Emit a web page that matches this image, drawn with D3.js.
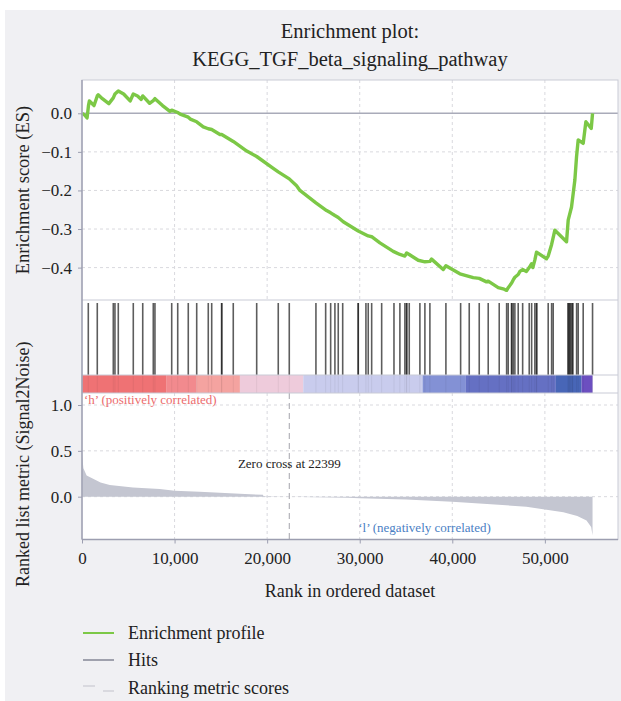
<!DOCTYPE html>
<html><head><meta charset="utf-8">
<script src="https://cdn.jsdelivr.net/npm/d3@7"></script>
<style>
body{margin:0;background:#fff}
svg{display:block}
text{font-family:"Liberation Serif","Times New Roman",serif;fill:#222}
</style>
</head><body>
<svg id="chart" width="621" height="701"></svg>
<script>
// ---------------- data ----------------
const titleLines = ["Enrichment plot:", "KEGG_TGF_beta_signaling_pathway"];
const esRank = [0,300,550,700,800,1300,1650,1750,2200,2900,3380,3560,3920,4500,5200,5540,6000,6400,6560,7300,7700,7880,8700,9500,9690,10340,10600,11480,11700,12390,13100,13640,14010,14900,15090,16340,17800,18870,20660,21200,22390,23180,23540,25270,26420,26860,27320,27680,28220,29840,30920,31290,32180,33620,34340,34880,35070,35350,36320,37040,37580,37760,39020,39310,40820,42260,42910,43700,43880,44960,45600,45870,46040,46410,46580,46760,47120,47300,47600,48000,48310,48570,48700,48920,49100,50180,50360,50730,51080,52340,52520,52880,53240,53420,53600,54140,54430,55010,55150];
const esValue = [0,-0.005,-0.012,0.02,0.032,0.02,0.045,0.048,0.038,0.025,0.04,0.05,0.058,0.05,0.032,0.05,0.045,0.036,0.045,0.026,0.033,0.038,0.02,0.005,0.008,0.002,-0.002,-0.01,-0.015,-0.022,-0.035,-0.04,-0.042,-0.055,-0.055,-0.073,-0.098,-0.112,-0.143,-0.152,-0.17,-0.188,-0.2,-0.232,-0.252,-0.258,-0.265,-0.27,-0.281,-0.305,-0.318,-0.32,-0.336,-0.358,-0.366,-0.37,-0.362,-0.366,-0.381,-0.385,-0.384,-0.378,-0.405,-0.395,-0.416,-0.426,-0.428,-0.437,-0.435,-0.452,-0.456,-0.459,-0.452,-0.44,-0.432,-0.425,-0.418,-0.41,-0.405,-0.41,-0.4,-0.39,-0.4,-0.38,-0.36,-0.377,-0.37,-0.34,-0.303,-0.333,-0.277,-0.243,-0.173,-0.113,-0.069,-0.078,-0.022,-0.039,0];
const hitRanks = [680,1650,3380,3560,3920,5540,6560,7700,7880,9690,10340,11480,12390,13640,14010,15090,15090,16340,18870,21200,22390,25270,26320,26860,27320,27680,28160,29840,29840,30670,30920,31290,32370,33700,34340,34880,35070,35070,35350,36500,37040,37580,39310,40900,41830,42910,43880,45070,45870,46040,46410,46410,46580,46760,47120,47600,48310,48570,48920,49110,49110,50360,50730,50900,52520,52520,52700,52700,52850,53000,53000,53430,53600,54140,55150];
const metricRank = [0,150,500,1200,2000,3000,5500,8400,10000,12700,14900,17600,19550,19600,22399,23700,28700,30000,35000,40000,45000,48000,50000,52000,53500,54500,55000,55150];
const metricValue = [0.47,0.31,0.23,0.195,0.155,0.128,0.1,0.085,0.066,0.055,0.044,0.03,0.02,0.004,0,-0.004,-0.012,-0.018,-0.032,-0.055,-0.088,-0.11,-0.14,-0.17,-0.21,-0.26,-0.33,-0.42];
const barEdges = [0,9150,12390,17060,23900,36790,41470,51190,53970,55150];
const barColors = ["#ef7274","#f28a8e","#f4a3a0","#eecbdb","#c9cced","#8391d5","#6570c3","#4866b7","#6c4fc0"];
const xTicks = [0,10000,20000,30000,40000,50000];
const esTicks = [0,-0.1,-0.2,-0.3,-0.4];
const metricTicks = [1.0,0.5,0.0];
const zeroCross = 22399;
const legendLabels = ["Enrichment profile","Hits","Ranking metric scores"];
const axisLabels = {x:"Rank in ordered dataset", es:"Enrichment score (ES)", metric:"Ranked list metric (Signal2Noise)"};
const posLabel = "\u2018h\u2019 (positively correlated)";
const negLabel = "\u2018l\u2019 (negatively correlated)";

// ---------------- layout ----------------
const svg = d3.select("#chart");
const L = 82, R = 618;
const esTop = 80, esBot = 300, hitBot = 375, barBot = 393, mBot = 539.5;
const green = "#7cc846", frame = "#c9cbd6", spine = "#9c9eb0", grid = "#d9d9de";

const x = d3.scaleLinear().domain([0, 57900]).range([L, R]);
const yES = d3.scaleLinear().domain([-0.484, 0.0863]).range([esBot, esTop]);
const yM = d3.scaleLinear().domain([-0.467, 1.131]).range([mBot, barBot]);

svg.append("rect").attr("x",5).attr("y",10).attr("width",616).attr("height",691).attr("fill","#f0f0f3");
svg.append("rect").attr("x",L).attr("y",esTop).attr("width",R-L).attr("height",mBot-esTop).attr("fill","#fff");

// title
svg.append("g").selectAll("text").data(titleLines).join("text")
  .attr("x", 350).attr("y",(d,i)=>38+i*28).attr("text-anchor","middle")
  .style("font-size","20.5px").text(d=>d);

// grids
const gTop = svg.append("g");
gTop.selectAll("line.v").data(xTicks.slice(1)).join("line")
  .attr("x1",d=>x(d)).attr("x2",d=>x(d)).attr("y1",esTop).attr("y2",esBot)
  .attr("stroke",grid).attr("stroke-dasharray","3,3");
gTop.selectAll("line.h").data(esTicks.filter(d=>d!==0)).join("line")
  .attr("x1",L).attr("x2",R).attr("y1",d=>yES(d)).attr("y2",d=>yES(d))
  .attr("stroke",grid).attr("stroke-dasharray","3,3");
const gBot = svg.append("g");
gBot.selectAll("line.v").data(xTicks.slice(1)).join("line")
  .attr("x1",d=>x(d)).attr("x2",d=>x(d)).attr("y1",barBot).attr("y2",mBot)
  .attr("stroke",grid).attr("stroke-dasharray","3,3");
gBot.selectAll("line.h").data(metricTicks).join("line")
  .attr("x1",L).attr("x2",R).attr("y1",d=>yM(d)).attr("y2",d=>yM(d))
  .attr("stroke",grid).attr("stroke-dasharray","3,3");

// ES zero line
svg.append("line").attr("x1",L).attr("x2",R).attr("y1",yES(0)).attr("y2",yES(0))
  .attr("stroke","#a9abb9").attr("stroke-width",1.5);

// ES curve
const esData = esRank.map((r,i)=>[r, esValue[i]]);
svg.append("path").datum(esData)
  .attr("d", d3.line().x(d=>x(d[0])).y(d=>yES(d[1])))
  .attr("fill","none").attr("stroke",green).attr("stroke-width",3.4).attr("stroke-linejoin","round");

// hits
svg.append("g").selectAll("line").data(hitRanks).join("line")
  .attr("x1",d=>x(d)).attr("x2",d=>x(d)).attr("y1",esBot+3).attr("y2",hitBot)
  .attr("stroke","#1e1e1e").attr("stroke-opacity",0.72).attr("stroke-width",1.6);

// colour bar
svg.append("g").selectAll("rect").data(barColors).join("rect")
  .attr("x",(d,i)=>x(barEdges[i])).attr("width",(d,i)=>x(barEdges[i+1])-x(barEdges[i]))
  .attr("y",hitBot).attr("height",barBot-hitBot).attr("fill",d=>d);
svg.append("g").selectAll("line").data(hitRanks).join("line")
  .attr("x1",d=>x(d)).attr("x2",d=>x(d)).attr("y1",hitBot).attr("y2",barBot)
  .attr("stroke","#000").attr("stroke-opacity",0.06).attr("stroke-width",1);

// metric area
const mData = metricRank.map((r,i)=>[r, metricValue[i]]);
svg.append("path").datum(mData)
  .attr("d", d3.area().x(d=>x(d[0])).y0(yM(0)).y1(d=>yM(d[1])))
  .attr("fill","#c4c6d1");

// zero cross
svg.append("line").attr("x1",x(zeroCross)).attr("x2",x(zeroCross)).attr("y1",barBot).attr("y2",mBot)
  .attr("stroke","#b8b8be").attr("stroke-width",1.3).attr("stroke-dasharray","6,4");
svg.append("text").attr("x",x(zeroCross)).attr("y",468).attr("text-anchor","middle")
  .style("font-size","13px").text("Zero cross at " + zeroCross);

// correlation labels
svg.append("text").attr("x",84).attr("y",404).style("font-size","13px").style("fill","#ec6c6e").text(posLabel);
svg.append("text").attr("x",x(37000)).attr("y",532).attr("text-anchor","middle").style("font-size","13px").style("fill","#4a80c4").text(negLabel);

// frames
const fr = svg.append("g").attr("fill","none");
fr.append("rect").attr("x",L).attr("y",esTop).attr("width",R-L).attr("height",mBot-esTop).attr("stroke",frame);
[esBot, hitBot, barBot].forEach(yy=>fr.append("line").attr("x1",L).attr("x2",R).attr("y1",yy).attr("y2",yy).attr("stroke",frame));
fr.append("line").attr("x1",L).attr("x2",L).attr("y1",esTop).attr("y2",mBot).attr("stroke",spine).attr("stroke-width",1.4);
fr.append("line").attr("x1",L).attr("x2",R).attr("y1",mBot).attr("y2",mBot).attr("stroke",spine).attr("stroke-width",1.4);

// axes
const xAxis = svg.append("g").attr("transform",`translate(0,${mBot})`)
  .call(d3.axisBottom(x).tickValues(xTicks).tickFormat(d3.format(",")).tickSize(4).tickPadding(8));
const yAxisES = svg.append("g").attr("transform",`translate(${L},0)`)
  .call(d3.axisLeft(yES).tickValues(esTicks).tickFormat(d3.format(".1f")).tickSize(4).tickPadding(6));
const yAxisM = svg.append("g").attr("transform",`translate(${L},0)`)
  .call(d3.axisLeft(yM).tickValues(metricTicks).tickFormat(d3.format(".1f")).tickSize(4).tickPadding(6));
[xAxis,yAxisES,yAxisM].forEach(g=>{
  g.select(".domain").remove();
  g.selectAll(".tick line").attr("stroke",spine);
  g.selectAll(".tick text").style("font-family","'Liberation Serif',serif").style("font-size","17px").attr("fill","#222");
});

// axis labels
svg.append("text").attr("x",350).attr("y",597).attr("text-anchor","middle").style("font-size","18px").text(axisLabels.x);
svg.append("text").attr("transform",`translate(29,${(esTop+esBot)/2}) rotate(-90)`).attr("text-anchor","middle").style("font-size","18.5px").text(axisLabels.es);
svg.append("text").attr("transform",`translate(29,${(barBot+mBot)/2 - 2}) rotate(-90)`).attr("text-anchor","middle").style("font-size","18px").text(axisLabels.metric);

// legend
const lg = svg.append("g");
const ly = [633, 660, 688];
lg.append("line").attr("x1",83).attr("x2",114).attr("y1",ly[0]).attr("y2",ly[0]).attr("stroke",green).attr("stroke-width",2);
lg.append("line").attr("x1",83).attr("x2",114).attr("y1",ly[1]).attr("y2",ly[1]).attr("stroke","#9fa1ad").attr("stroke-width",2);
lg.append("line").attr("x1",83).attr("x2",95).attr("y1",ly[2]-2).attr("y2",ly[2]-2).attr("stroke","#d2d2d8").attr("stroke-width",1.5);
lg.append("line").attr("x1",103).attr("x2",114).attr("y1",ly[2]+3).attr("y2",ly[2]+3).attr("stroke","#d2d2d8").attr("stroke-width",1.5);
lg.selectAll("text").data(legendLabels).join("text")
  .attr("x",128).attr("y",(d,i)=>ly[i]+6).style("font-size","18px").text(d=>d);
</script>
</body></html>
